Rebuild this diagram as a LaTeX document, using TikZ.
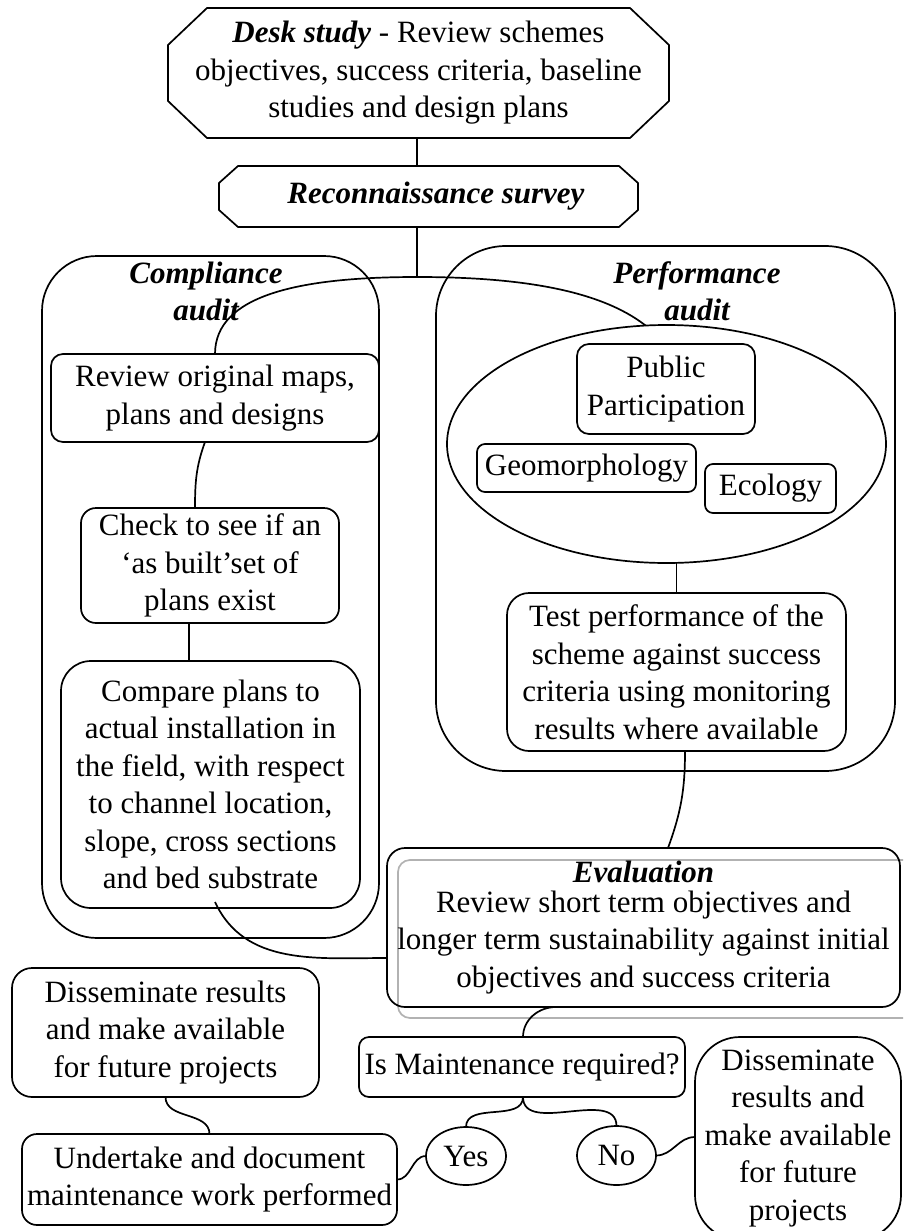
\documentclass[tikz,border=0pt]{standalone}
\usepackage{fontspec}
\setmainfont{Liberation Serif}
\usetikzlibrary{calc,shapes.geometric}
\newcommand\octbox[3]{\draw[ln] ($(#1.north west)+(#2,0)$) -- ($(#1.north east)+(-#2,0)$) -- ($(#1.north east)+(0,-#3)$) -- ($(#1.south east)+(0,#3)$) -- ($(#1.south east)+(-#2,0)$) -- ($(#1.south west)+(#2,0)$) -- ($(#1.south west)+(0,#3)$) -- ($(#1.north west)+(0,-#3)$) -- cycle;}
\begin{document}
\begin{tikzpicture}[x=1pt,y=1pt,
  every node/.style={font=\fontsize{31}{37.5}\selectfont, align=center, inner sep=0pt, outer sep=0pt},
  ln/.style={line width=1.7pt, draw=black},
  rbox/.style n args={3}{ln, rectangle, rounded corners=#3, minimum width=#1, minimum height=#2},
  plain/.style n args={2}{rectangle, minimum width=#1, minimum height=#2},
  oval/.style n args={2}{ln, ellipse, minimum width=#1, minimum height=#2},
  title/.style={font=\fontsize{31}{37}\selectfont\bfseries\itshape}
]
\path[use as bounding box, clip] (0,0) rectangle (903,-1231);
\coordinate (j) at (417,-277);

% top octagons
\node[plain={501pt}{130pt}] (desk) at (418.5,-73) {\textbf{\textit{Desk study}} - Review schemes\\ objectives, success criteria, baseline\\ studies and design plans};
\octbox{desk}{39}{37}
\node[plain={419pt}{61pt}] (recon) at (428.5,-196.5) {\hspace*{15pt}\textbf{\textit{Reconnaissance survey}}};
\octbox{recon}{19}{17}

% containers
\node[rbox={337pt}{682pt}{55pt}] (comp) at (210.5,-597) {};
\node[title] (comptitle) at (206,-291.5) {Compliance\\ audit};
\node[rbox={459pt}{525pt}{70pt}] (perf) at (665.5,-508.5) {};
\node[title] (perftitle) at (697,-291.5) {Performance\\ audit};

% compliance column
\node[rbox={328pt}{88pt}{12pt}] (review) at (215,-398) {Review original maps,\\ plans and designs};
\node[rbox={258pt}{115pt}{15pt}] (check) at (210,-565.5) {Check to see if an\\ ‘as built’set of\\ plans exist};
\node[rbox={299pt}{247pt}{30pt}] (compare) at (210.5,-784.5) {Compare plans to\\ actual installation in\\ the field, with respect\\ to channel location,\\ slope, cross sections\\ and bed substrate};

% performance column
\node[oval={439pt}{238pt}] (ell) at (666.5,-444) {};
\node[rbox={178pt}{90pt}{12pt}] (public) at (666,-389) {Public\\ Participation};
\node[rbox={219pt}{48pt}{8pt}] (geo) at (586.5,-468) {Geomorphology};
\node[rbox={131pt}{49pt}{8pt}] (eco) at (770.5,-488.5) {Ecology};
\node[rbox={339pt}{158pt}{22pt}] (test) at (676.5,-672) {Test performance of the\\ scheme against success\\ criteria using monitoring\\ results where available};

% evaluation
\draw[line width=1.7pt, draw=gray!60, rounded corners=12pt] (398,-860) rectangle (915,-1018);
\node[rbox={513pt}{159pt}{18pt}] (eval) at (643.5,-927.5) {\textbf{\textit{Evaluation}}\\[-7.5pt] Review short term objectives and\\ longer term sustainability against initial\\ objectives and success criteria};

% bottom
\node[rbox={326pt}{60pt}{10pt}] (maint) at (522,-1067) {Is Maintenance required?};
\node[oval={80pt}{58pt}] (yes) at (466,-1156) {Yes};
\node[oval={79pt}{59pt}] (no) at (616.5,-1155.5) {No};
\node[rbox={206pt}{203pt}{45pt}] (dissR) at (798,-1138.5) {Disseminate\\ results and\\ make available\\ for future\\ projects};
\node[rbox={375pt}{91pt}{15pt}] (under) at (209.5,-1179.5) {Undertake and document\\ maintenance work performed};
\node[rbox={307pt}{129pt}{20pt}] (dissL) at (165.5,-1032.5) {Disseminate results\\ and make available\\ for future projects};

% connectors
\draw[ln] (desk.south -| j) -- (recon.north -| j);
\draw[ln] (recon.south -| j) -- (j);
\draw[ln] (j) .. controls (300,-277) and (215,-295) .. (review.north);
\draw[ln] (j) .. controls (520,-277) and (600,-290) .. (ell.100);
\draw[ln] ($(review.south)+(-10,0)$) to[out=-110,in=90] ($(check.north)+(-15,0)$);
\draw[ln] ($(check.south)+(-21,0)$) coordinate (t) -- (t |- compare.north);
\draw[ln] ($(compare.south)+(4.5,6)$) to[out=-65,in=180] ($(eval.west)+(0,-30.5)$);
\draw[ln] (test.north) -- (test.north |- ell.south);
\draw[ln] ($(test.south)+(8.5,0)$) to[out=-90,in=70] ($(eval.north)+(24.5,0)$);
\draw[ln] ($(eval.south)+(-87.5,0)$) to[out=180,in=90] ($(maint.north)+(1,0)$);
\draw[ln] ($(maint.south)+(1,0)$) to[out=-90,in=90] (yes.north);
\draw[ln] ($(maint.south)+(1,0)$) to[out=-90,in=90] (no.north);
\draw[ln] (no.east) to[out=0,in=180] ($(dissR.west)+(0,1.5)$);
\draw[ln] (yes.west) to[out=180,in=0] (under.east);
\draw[ln] (dissL.south) to[out=-90,in=90] (under.north);
\end{tikzpicture}
\end{document}
